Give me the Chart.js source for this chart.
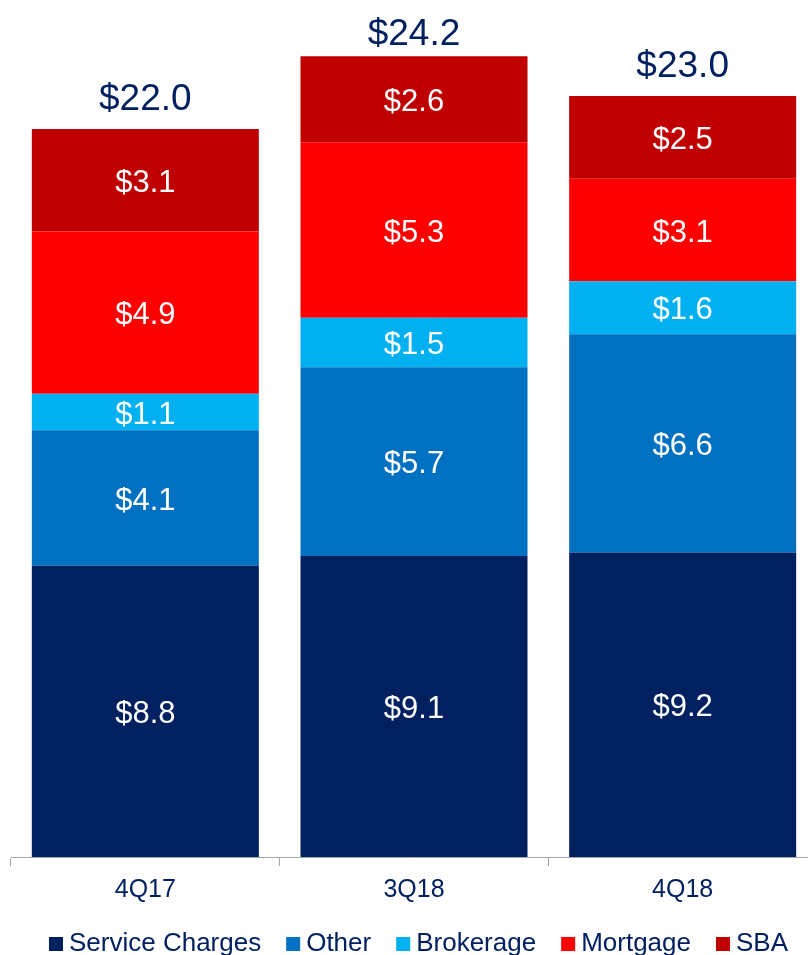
<!DOCTYPE html>
<html>
<head>
<meta charset="utf-8">
<script src="https://cdn.jsdelivr.net/npm/chart.js@4.4.1/dist/chart.umd.min.js"></script>
<style>
  html, body { margin: 0; padding: 0; background: #ffffff; overflow: hidden; }
  #wrap { width: 817px; height: 955px; position: relative; }
</style>
</head>
<body>
<div id="wrap"><canvas id="c" width="817" height="955"></canvas></div>
<script>
const categories = ["4Q17", "3Q18", "4Q18"];
const serviceCharges = [8.8, 9.1, 9.2];
const other = [4.1, 5.7, 6.6];
const brokerage = [1.1, 1.5, 1.6];
const mortgage = [4.9, 5.3, 3.1];
const sba = [3.1, 2.6, 2.5];
const totals = [22.0, 24.2, 23.0];
const seriesNames = ["Service Charges", "Other", "Brokerage", "Mortgage", "SBA"];
const seriesColors = ["#002060", "#0070C0", "#00B0F0", "#FF0000", "#C00000"];

const FONT = "'Liberation Sans', Arial, sans-serif";
const NAVY = "#002060";
const fmt = v => "$" + v.toFixed(1);

const labelPlugin = {
  id: "labels",
  afterDatasetsDraw(chart) {
    const ctx = chart.ctx;
    ctx.save();
    ctx.textAlign = "center";
    ctx.textBaseline = "middle";
    ctx.fillStyle = "#ffffff";
    ctx.font = "31px " + FONT;
    chart.data.datasets.forEach((ds, di) => {
      const meta = chart.getDatasetMeta(di);
      meta.data.forEach((el, i) => {
        const p = el.getProps(["x", "y", "base"], true);
        ctx.fillText(fmt(ds.data[i]), p.x, (p.y + p.base) / 2 + 3);
      });
    });
    // totals
    const lastMeta = chart.getDatasetMeta(chart.data.datasets.length - 1);
    ctx.fillStyle = NAVY;
    ctx.font = "37px " + FONT;
    ctx.textBaseline = "alphabetic";
    lastMeta.data.forEach((el, i) => {
      const p = el.getProps(["x", "y"], true);
      ctx.fillText(fmt(totals[i]), p.x, Math.max(p.y - 19, 45));
    });
    ctx.restore();
  }
};

const legendPlugin = {
  id: "customLegend",
  afterDraw(chart) {
    const ctx = chart.ctx;
    ctx.save();
    ctx.font = "26px " + FONT;
    ctx.textBaseline = "alphabetic";
    ctx.textAlign = "left";
    const box = 14, gapBox = 6, gapItem = 25;
    const widths = seriesNames.map(n => box + gapBox + ctx.measureText(n).width);
    const total = widths.reduce((a, b) => a + b, 0) + gapItem * (seriesNames.length - 1);
    let x = 418.5 - total / 2;
    const baseline = 951;
    seriesNames.forEach((n, i) => {
      ctx.fillStyle = seriesColors[i];
      ctx.fillRect(x, baseline - box, box, box);
      ctx.fillStyle = NAVY;
      ctx.fillText(n, x + box + gapBox, baseline);
      x += widths[i] + gapItem;
    });
    ctx.restore();
  }
};

const seriesData = [serviceCharges, other, brokerage, mortgage, sba];

new Chart(document.getElementById("c"), {
  type: "bar",
  data: {
    labels: categories,
    datasets: seriesNames.map((name, i) => ({
      label: name,
      data: seriesData[i],
      backgroundColor: seriesColors[i],
      borderWidth: 0,
      categoryPercentage: 1.0,
      barPercentage: 0.845
    }))
  },
  options: {
    responsive: false,
    animation: false,
    devicePixelRatio: 1,
    layout: { padding: { left: 11, right: 0, top: 0, bottom: 41 } },
    plugins: {
      legend: { display: false },
      tooltip: { enabled: false }
    },
    scales: {
      x: {
        stacked: true,
        grid: {
          display: true,
          offset: true,
          drawOnChartArea: false,
          drawTicks: true,
          tickLength: 9,
          color: "#A6A6A6"
        },
        border: { display: true, color: "#A6A6A6", width: 1 },
        ticks: {
          color: NAVY,
          font: { family: FONT, size: 25 },
          padding: 9
        }
      },
      y: {
        stacked: true,
        display: false,
        min: 0,
        max: 25.9
      }
    }
  },
  plugins: [labelPlugin, legendPlugin]
});
</script>
</body>
</html>
